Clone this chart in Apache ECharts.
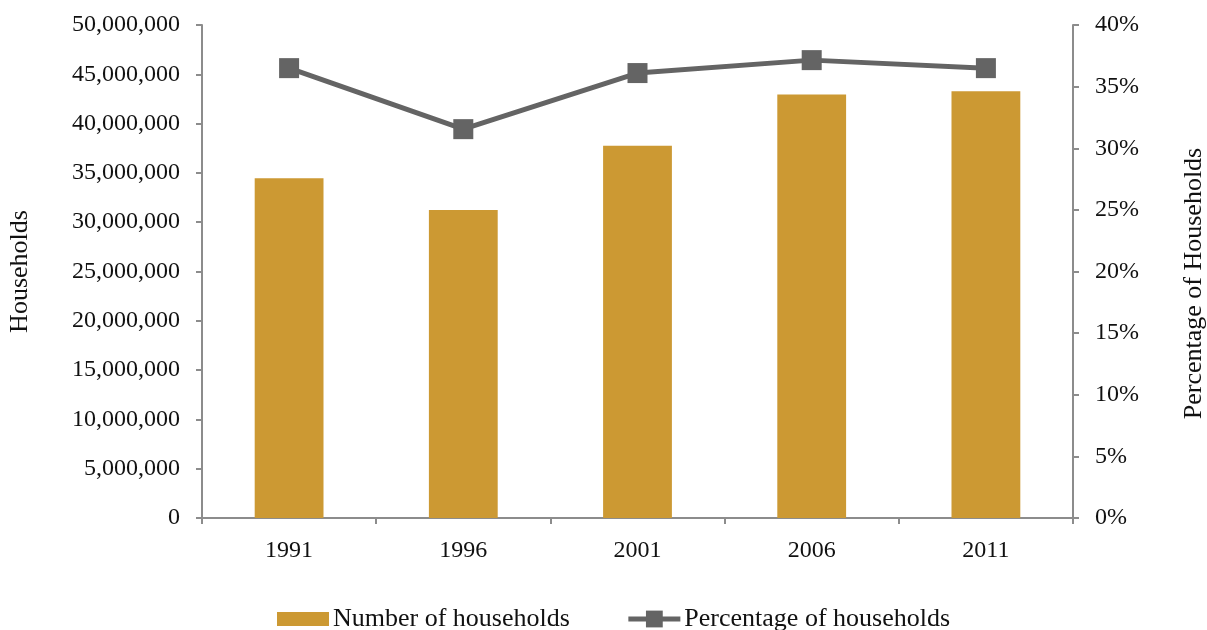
<!DOCTYPE html>
<html>
<head>
<meta charset="utf-8">
<script src="https://cdn.jsdelivr.net/npm/echarts@6/dist/echarts.min.js"></script>
<style>
  html, body { margin: 0; padding: 0; background: #fff; }
  #chart { width: 1207px; height: 630px; }
</style>
</head>
<body>
<div id="chart"></div>
<script>
// Census years
const years = ['1991', '1996', '2001', '2006', '2011'];
// Number of households (bars, left axis)
const households = [34450000, 31250000, 37750000, 42950000, 43270000];
// Share of households, in percent (line, right axis)
const percentHouseholds = [36.5, 31.55, 36.1, 37.15, 36.5];

const serif = '"Liberation Serif", "DejaVu Serif", serif';
const axisGrey = '#8c8c8c';
const textStyle = { fontFamily: serif, fontSize: 24, color: '#111' };
const nameStyle = { fontFamily: serif, fontSize: 26, color: '#111' };

// Bar swatch: a 52x14 block centred in a 52x21 box (the zero-area strokes only set the box)
const barSwatch = 'path://M0,0L52,0ZM0,3.5L52,3.5L52,17.5L0,17.5ZM0,21L52,21Z';

const chart = echarts.init(document.getElementById('chart'));
chart.setOption({
  animation: false,
  textStyle: { fontFamily: serif },
  grid: { left: 202, right: 134, top: 25, bottom: 112, outerBoundsMode: 'none' },
  legend: {
    top: 606,
    left: 277,
    padding: 0,
    itemGap: 56,
    itemWidth: 52,
    itemHeight: 21,
    textStyle: { fontFamily: serif, fontSize: 26, color: '#111', padding: [0, 0, 0, -1] },
    data: [
      { name: 'Number of households', icon: barSwatch },
      { name: 'Percentage of households', lineStyle: { width: 5, color: '#646464' } }
    ]
  },
  xAxis: {
    type: 'category',
    data: years,
    axisLine: { lineStyle: { color: axisGrey, width: 2 } },
    axisTick: { show: true, length: 6, lineStyle: { color: axisGrey, width: 2 } },
    axisLabel: Object.assign({ margin: 21 }, textStyle)
  },
  yAxis: [
    {
      type: 'value',
      min: 0,
      max: 50000000,
      interval: 5000000,
      name: 'Households',
      nameLocation: 'middle',
      nameRotate: 90,
      nameGap: 169,
      nameTextStyle: nameStyle,
      axisLine: { show: true, lineStyle: { color: axisGrey, width: 2 } },
      axisTick: { show: true, length: 6, lineStyle: { color: axisGrey, width: 2 } },
      splitLine: { show: false },
      axisLabel: Object.assign({
        margin: 22,
        formatter: v => v.toString().replace(/\B(?=(\d{3})+(?!\d))/g, ',')
      }, textStyle)
    },
    {
      type: 'value',
      min: 0,
      max: 40,
      interval: 5,
      name: 'Percentage of Households',
      nameLocation: 'middle',
      nameRotate: 90,
      nameGap: 108,
      nameTextStyle: Object.assign({ padding: [0, 24, 0, 0] }, nameStyle),
      axisLine: { show: true, lineStyle: { color: axisGrey, width: 2 } },
      axisTick: { show: true, length: 6, lineStyle: { color: axisGrey, width: 2 } },
      splitLine: { show: false },
      axisLabel: Object.assign({ margin: 22, formatter: v => v + '%' }, textStyle)
    }
  ],
  series: [
    {
      name: 'Number of households',
      type: 'bar',
      yAxisIndex: 0,
      data: households,
      barWidth: '39.5%',
      itemStyle: { color: '#cc9933' }
    },
    {
      name: 'Percentage of households',
      type: 'line',
      yAxisIndex: 1,
      data: percentHouseholds,
      symbol: 'rect',
      symbolSize: 20,
      lineStyle: { color: '#646464', width: 5 },
      itemStyle: { color: '#646464' }
    }
  ]
});
</script>
</body>
</html>
